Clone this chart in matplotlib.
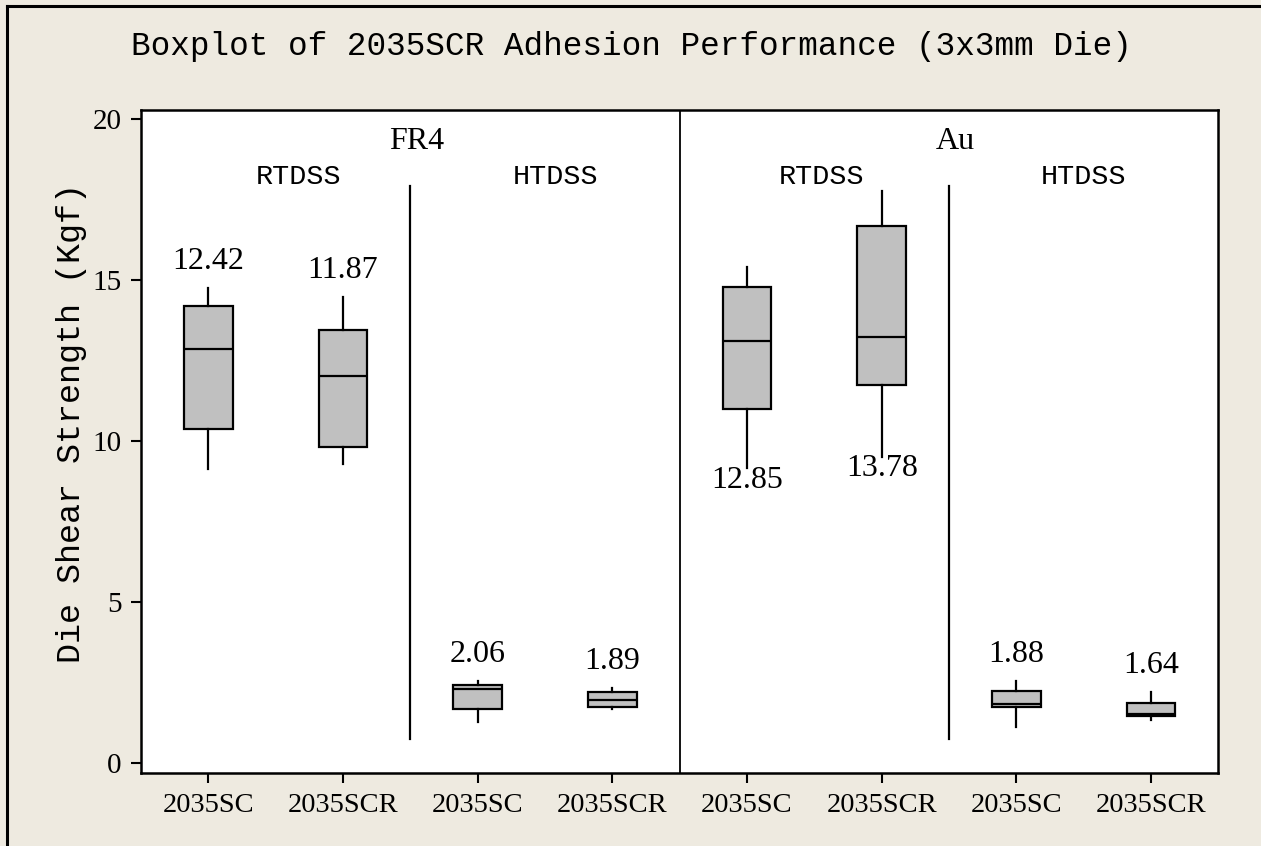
import matplotlib
matplotlib.use("Agg")
import matplotlib.pyplot as plt
from matplotlib.lines import Line2D

# Die shear strength (Kgf) summary per group: whiskers, quartiles, median
substrates = ["FR4", "Au"]
tests = ["RTDSS", "HTDSS"]
materials = ["2035SC", "2035SCR"]

whisker_lo = [9.13, 9.29, 1.27, 1.68, 9.15, 9.51, 1.13, 1.34]
q1 = [10.37, 9.81, 1.68, 1.74, 10.98, 11.73, 1.73, 1.47]
medians = [12.84, 12.02, 2.29, 1.97, 13.10, 13.23, 1.83, 1.51]
q3 = [14.20, 13.45, 2.42, 2.21, 14.76, 16.66, 2.23, 1.86]
whisker_hi = [14.75, 14.46, 2.55, 2.32, 15.41, 17.74, 2.55, 2.20]
means = [12.42, 11.87, 2.06, 1.89, 12.85, 13.78, 1.88, 1.64]
# mean label drawn below the box for the Au room-temperature groups
label_below = [False, False, False, False, True, True, False, False]

BG = "#EEEAE0"
MONO = "Liberation Mono"
SERIF = "Liberation Serif"

W, H = 1261, 846
fig = plt.figure(figsize=((W + 0.4) / 100, (H + 0.4) / 100), dpi=100, facecolor=BG)
ax = fig.add_axes([141 / W, 1 - 773 / H, (1218 - 141) / W, (773 - 110) / H])
ax.set_facecolor("white")

# outer frame, only top and left edges fall inside the canvas
x0, y0 = 7 / W, 1 - 6 / H
fig.lines.append(Line2D([x0, x0], [-0.1, y0], transform=fig.transFigure,
                        color="black", linewidth=2.2))
fig.lines.append(Line2D([x0, 1.1], [y0, y0], transform=fig.transFigure,
                        color="black", linewidth=2.2))

stats = []
for i in range(len(medians)):
    stats.append({"med": medians[i], "q1": q1[i], "q3": q3[i],
                  "whislo": whisker_lo[i], "whishi": whisker_hi[i],
                  "fliers": [], "mean": means[i]})

positions = list(range(len(stats)))
ax.bxp(stats, positions=positions, widths=0.36, patch_artist=True,
       showcaps=False, showfliers=False,
       boxprops=dict(facecolor="#C0C0C0", edgecolor="black", linewidth=1.6),
       medianprops=dict(color="black", linewidth=1.6),
       whiskerprops=dict(color="black", linewidth=1.6))

for x, st, below in zip(positions, stats, label_below):
    if below:
        ax.annotate(f"{st['mean']:.2f}", (x, st["whislo"]), xytext=(0, 2),
                    textcoords="offset points", ha="center", va="top",
                    fontsize=23, family=SERIF)
    else:
        ax.annotate(f"{st['mean']:.2f}", (x, st["whishi"]), xytext=(0, 9),
                    textcoords="offset points", ha="center", va="bottom",
                    fontsize=23, family=SERIF)

# panel dividers
ax.axvline(3.5, color="black", linewidth=1.3)
for xd in (1.5, 5.5):
    ax.plot([xd, xd], [0.75, 17.9], color="black", linewidth=1.6)

# substrate and test headers
header_shift = [[0.17, 0.08], [0.05, 0.0]]
for k, sub in enumerate(substrates):
    ax.text(1.5 + 4 * k + 0.05, 19.3, sub, ha="center", va="center",
            fontsize=23, family=SERIF)
    for j, t in enumerate(tests):
        xc = 4 * k + 2 * j + 0.5 + header_shift[k][j]
        ax.text(xc, 18.2, t, ha="center", va="center", fontsize=20.5, family=MONO)

ax.set_xlim(-0.5, 7.5)
ax.set_ylim(-0.31, 20.28)
ax.set_xticks(positions)
ax.set_xticklabels(materials * 4, fontsize=20.5, family=SERIF)
ax.set_yticks([0, 5, 10, 15, 20])
ax.set_yticklabels(["0", "5", "10", "15", "20"], fontsize=21, family=SERIF)
ax.tick_params(length=7, width=1.5, pad=7)
for s in ax.spines.values():
    s.set_linewidth(1.8)

ax.set_ylabel("Die Shear Strength (Kgf)", fontsize=24, family=MONO)
ax.yaxis.set_label_coords(-0.050, 0.528)
fig.text(631 / W, 1 - 46 / H,
         "Boxplot of 2035SCR Adhesion Performance (3x3mm Die)",
         ha="center", va="center", fontsize=23.5, family=MONO)

fig.savefig("out.png", dpi=100, facecolor=BG)
